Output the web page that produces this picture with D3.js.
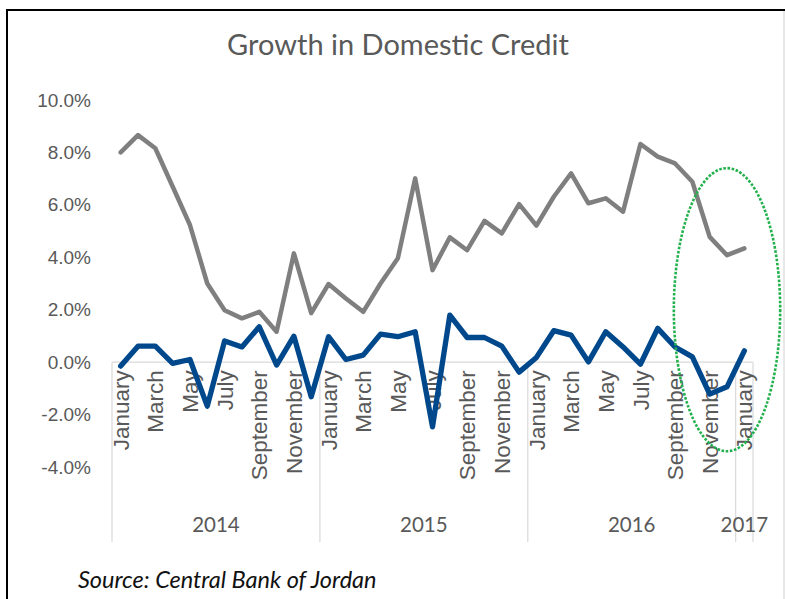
<!DOCTYPE html>
<html lang="en">
<head>
  <meta charset="UTF-8">
  <title>Growth in Domestic Credit</title>
  <script src="https://d3js.org/d3.v7.min.js"></script>
  <style>
    body { margin: 0; background: #fff; }
    svg { display: block; font-family: Lato, "Open Sans", sans-serif; }
  </style>
</head>
<body>

<script>
// categories: Jan 2014 .. Jan 2017
const monthNames = ["January", "February", "March", "April", "May", "June",
  "July", "August", "September", "October", "November", "December"];
const years = ["2014", "2015", "2016", "2017"];
const monthsPerYear = [12, 12, 12, 1];

// grey line (year on year), %
const yoyGrowth = [
  8.00, 8.66, 8.16, 6.70, 5.23, 3.00, 1.98, 1.67, 1.92, 1.16, 4.15, 1.87,
  2.98, 2.43, 1.92, 3.00, 3.96, 7.01, 3.51, 4.76, 4.27, 5.39, 4.91, 6.03,
  5.21, 6.31, 7.20, 6.06, 6.25, 5.74, 8.32, 7.84, 7.58, 6.88, 4.78, 4.08,
  4.34
];

// blue line (month on month), %
const momGrowth = [
  -0.15, 0.61, 0.61, -0.05, 0.10, -1.68, 0.81, 0.58, 1.35, -0.11, 0.99, -1.32,
  0.97, 0.10, 0.27, 1.07, 0.97, 1.16, -2.47, 1.79, 0.94, 0.94, 0.61, -0.38,
  0.18, 1.20, 1.03, 0.01, 1.16, 0.58, -0.08, 1.29, 0.58, 0.20, -1.22, -0.94,
  0.43
];

const yTicks = [-4, -2, 0, 2, 4, 6, 8, 10];

// dotted ellipse round the last months (centre month index, centre value, half sizes)
const highlight = { month: 35, value: 2.0, halfMonths: 3.07, halfValue: 5.4 };

const categories = years.flatMap((y, i) =>
  monthNames.slice(0, monthsPerYear[i]).map(m => ({ year: y, month: m })));

const width = 785;
const height = 599;

const svg = d3.select("body").append("svg")
    .attr("width", width)
    .attr("height", height);

// frame
svg.append("path")
    .attr("d", "M7,599V10H785")
    .attr("fill", "none")
    .attr("stroke", "#000")
    .attr("stroke-width", 2);
svg.append("line")
    .attr("x1", 784).attr("x2", 784)
    .attr("y1", 11).attr("y2", height)
    .attr("stroke", "#d0d0d0");

const x = d3.scaleBand()
    .domain(d3.range(categories.length))
    .range([112, 753]);

const y = d3.scaleLinear()
    .domain([-4, 10])
    .range([467, 100]);

const cx = i => x(i) + x.bandwidth() / 2;

// title
svg.append("text")
    .attr("x", 398)
    .attr("y", 55)
    .attr("text-anchor", "middle")
    .attr("fill", "#595959")
    .style("font-size", "29px")
    .text("Growth in Domestic Credit");

// y axis
const yAxis = svg.append("g")
    .attr("transform", "translate(91,0)")
    .call(d3.axisLeft(y)
      .tickValues(yTicks)
      .tickSize(0)
      .tickPadding(0)
      .tickFormat(d => d.toFixed(1) + "%"));
yAxis.select(".domain").remove();
yAxis.selectAll("text")
    .attr("fill", "#595959")
    .style("font-size", "19px");

// category axis line at zero
svg.append("line")
    .attr("x1", x.range()[0]).attr("x2", x.range()[1])
    .attr("y1", y(0)).attr("y2", y(0))
    .attr("stroke", "#d9d9d9")
    .attr("stroke-width", 1.2);

// year separators
const yearStarts = categories.map((c, i) => i).filter(i => categories[i].month === "January");
svg.append("g")
  .selectAll("line")
  .data([...yearStarts.map(i => x(i)), x.range()[1]])
  .join("line")
    .attr("x1", d => d).attr("x2", d => d)
    .attr("y1", y(0)).attr("y2", 542)
    .attr("stroke", "#d9d9d9")
    .attr("stroke-width", 1.2);

// month labels, every second month
const xAxis = svg.append("g")
    .attr("transform", `translate(0,${y(0)})`)
    .call(d3.axisBottom(x)
      .tickValues(d3.range(0, categories.length, 2))
      .tickSize(0)
      .tickFormat(i => categories[i].month));
xAxis.select(".domain").remove();
xAxis.selectAll("text")
    .attr("transform", "rotate(-90)")
    .attr("text-anchor", "end")
    .attr("x", -8)
    .attr("y", 0)
    .attr("dy", "0.36em")
    .attr("fill", "#595959")
    .style("font-size", "22.5px");

// year labels
svg.append("g")
  .selectAll("text")
  .data(years)
  .join("text")
    .attr("x", (d, k) => {
      const i0 = yearStarts[k];
      return (x(i0) + x(i0 + monthsPerYear[k] - 1) + x.bandwidth()) / 2;
    })
    .attr("y", 532)
    .attr("text-anchor", "middle")
    .attr("fill", "#595959")
    .style("font-size", "20.5px")
    .text(d => d);

// lines
const line = d3.line()
    .x((d, i) => cx(i))
    .y(d => y(d));

svg.append("path")
    .datum(yoyGrowth)
    .attr("d", line)
    .attr("fill", "none")
    .attr("stroke", "#7f7f7f")
    .attr("stroke-width", 4.5)
    .attr("stroke-linejoin", "round")
    .attr("stroke-linecap", "round");

svg.append("path")
    .datum(momGrowth)
    .attr("d", line)
    .attr("fill", "none")
    .attr("stroke", "#00488c")
    .attr("stroke-width", 5.3)
    .attr("stroke-linejoin", "round")
    .attr("stroke-linecap", "round");

// green dotted ellipse
svg.append("ellipse")
    .attr("cx", cx(highlight.month))
    .attr("cy", y(highlight.value))
    .attr("rx", highlight.halfMonths * x.bandwidth())
    .attr("ry", y(0) - y(highlight.halfValue))
    .attr("fill", "none")
    .attr("stroke", "#22b14c")
    .attr("stroke-width", 2.6)
    .attr("stroke-dasharray", "2.6 1.6");

// source note
svg.append("text")
    .attr("x", 78)
    .attr("y", 588)
    .attr("fill", "#111")
    .style("font-size", "23.5px")
    .style("font-style", "italic")
    .text("Source: Central Bank of Jordan");
</script>

</body>
</html>
